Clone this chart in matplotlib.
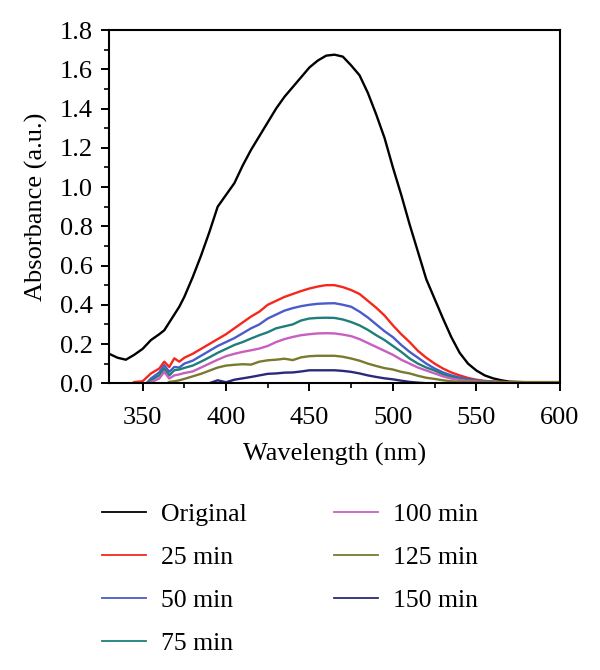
import matplotlib
matplotlib.use("Agg")
import matplotlib.pyplot as plt
from matplotlib.ticker import MultipleLocator, FormatStrFormatter

plt.rcParams['font.family'] = ['Liberation Serif', 'DejaVu Serif']
plt.rcParams['font.size'] = 19

wavelength = [330, 335, 340, 345, 350, 355, 360, 363, 366, 369, 372,
              375, 380, 385, 390, 395, 400, 405, 410, 415, 420, 425, 430,
              435, 440, 445, 450, 455, 460, 465, 470, 475, 480, 485, 490,
              495, 500, 505, 510, 515, 520, 525, 530, 535, 540, 545, 550,
              555, 560, 565, 570, 580, 590, 600]

original = [0.15, 0.13, 0.12, 0.145, 0.175, 0.22, 0.25, 0.27, 0.31, 0.35, 0.39,
            0.44, 0.54, 0.65, 0.77, 0.90, 0.96, 1.02, 1.11, 1.19, 1.26, 1.33, 1.40,
            1.46, 1.51, 1.56, 1.61, 1.645, 1.67, 1.675, 1.665, 1.62, 1.57, 1.48, 1.37,
            1.25, 1.10, 0.96, 0.81, 0.67, 0.53, 0.43, 0.33, 0.235, 0.155, 0.10, 0.065,
            0.04, 0.025, 0.015, 0.008, 0.005, 0.005, 0.005]

min25 = [-0.05, -0.05, -0.02, 0.006, 0.01, 0.05, 0.075, 0.11, 0.083, 0.127, 0.11,
         0.13, 0.15, 0.175, 0.20, 0.225, 0.25, 0.28, 0.31, 0.34, 0.365, 0.40, 0.42,
         0.44, 0.455, 0.47, 0.483, 0.493, 0.50, 0.50, 0.49, 0.475, 0.455, 0.42, 0.385,
         0.345, 0.295, 0.25, 0.21, 0.165, 0.13, 0.10, 0.075, 0.055, 0.04, 0.027, 0.018,
         0.012, 0.009, 0.007, 0.006, 0.006, 0.006, 0.006]

min50 = [-0.05, -0.05, -0.05, -0.05, -0.02, 0.024, 0.055, 0.092, 0.058, 0.083, 0.08,
         0.10, 0.115, 0.14, 0.165, 0.19, 0.21, 0.23, 0.255, 0.28, 0.30, 0.33, 0.35,
         0.37, 0.383, 0.393, 0.40, 0.405, 0.407, 0.408, 0.40, 0.39, 0.365, 0.335, 0.30,
         0.265, 0.235, 0.195, 0.16, 0.13, 0.10, 0.075, 0.055, 0.04, 0.029, 0.02, 0.014,
         0.01, 0.007, 0.006, 0.005, 0.005, 0.005, 0.005]

min75 = [-0.05, -0.05, -0.05, -0.05, -0.03, 0.015, 0.04, 0.075, 0.04, 0.066, 0.07,
         0.078, 0.09, 0.11, 0.132, 0.155, 0.175, 0.195, 0.21, 0.228, 0.245, 0.26, 0.28,
         0.29, 0.30, 0.32, 0.33, 0.333, 0.334, 0.333, 0.325, 0.312, 0.295, 0.272, 0.245,
         0.22, 0.19, 0.16, 0.126, 0.10, 0.08, 0.065, 0.045, 0.032, 0.023, 0.016, 0.012,
         0.009, 0.007, 0.006, 0.005, 0.005, 0.005, 0.005]

min100 = [-0.05, -0.05, -0.05, -0.05, -0.05, 0.005, 0.024, 0.058, 0.024, 0.04, 0.045,
          0.052, 0.06, 0.08, 0.10, 0.12, 0.138, 0.15, 0.16, 0.168, 0.177, 0.19, 0.21,
          0.225, 0.236, 0.245, 0.25, 0.254, 0.255, 0.254, 0.248, 0.24, 0.225, 0.205, 0.185,
          0.165, 0.145, 0.12, 0.10, 0.08, 0.065, 0.05, 0.035, 0.024, 0.017, 0.012, 0.009,
          0.007, 0.006, 0.005, 0.005, 0.005, 0.005, 0.005]

min125 = [-0.05, -0.05, -0.05, -0.05, -0.05, -0.05, -0.05, -0.01, 0.007, 0.01, 0.015,
          0.022, 0.035, 0.048, 0.064, 0.08, 0.09, 0.094, 0.097, 0.095, 0.11, 0.117, 0.12,
          0.125, 0.118, 0.132, 0.138, 0.14, 0.14, 0.14, 0.135, 0.126, 0.115, 0.10, 0.088,
          0.077, 0.07, 0.058, 0.05, 0.038, 0.028, 0.022, 0.015, 0.01, 0.007, 0.006, 0.005,
          0.005, 0.005, 0.005, 0.005, 0.005, 0.005, 0.005]

min150 = [-0.05, -0.05, -0.05, -0.05, -0.05, -0.05, -0.05, -0.05, -0.05, -0.05, -0.05,
          -0.05, -0.05, -0.02, 0.0, 0.015, 0.005, 0.018, 0.025, 0.032, 0.04, 0.048, 0.05,
          0.054, 0.055, 0.06, 0.066, 0.066, 0.066, 0.066, 0.063, 0.058, 0.05, 0.04, 0.032,
          0.025, 0.02, 0.013, 0.007, 0.003, 0.0, -0.01, -0.02, -0.02, -0.02, -0.02, -0.02,
          -0.02, -0.02, -0.02, -0.02, -0.02, -0.02, -0.02]

labels = ['Original', '25 min', '50 min', '75 min', '100 min', '125 min', '150 min']
series = [original, min25, min50, min75, min100, min125, min150]
colors = ['#000000', '#F4281C', '#4A5CC8', '#1E7F7A', '#C85FC0', '#787A2E', '#2A2A78']

fig = plt.figure(figsize=(6.0, 6.7), dpi=100)
ax = fig.add_axes([0.182, 0.428, 0.751, 0.527])

for y, c, lab in zip(series, colors, labels):
    ax.plot(wavelength, y, color=c, lw=1.7, label=lab)

ax.set_xlim(330, 600)
ax.set_ylim(0, 1.8)
ax.xaxis.set_major_locator(MultipleLocator(50))
ax.xaxis.set_minor_locator(MultipleLocator(25))
ax.yaxis.set_major_locator(MultipleLocator(0.2))
ax.yaxis.set_minor_locator(MultipleLocator(0.1))
ax.yaxis.set_major_formatter(FormatStrFormatter('%.1f'))
ax.set_xticks([350, 400, 450, 500, 550, 600])
ax.tick_params(axis='x', which='major', direction='out', length=6, width=1.4, pad=11)
ax.tick_params(axis='y', which='major', direction='out', length=6, width=1.4, pad=6)
ax.tick_params(which='minor', direction='out', length=3.5, width=1.2)
for s in ax.spines.values():
    s.set_linewidth(1.5)

ax.set_xlabel('Wavelength (nm)', labelpad=10)
ax.set_ylabel('Absorbance (a.u.)', labelpad=8)

handles, labs = ax.get_legend_handles_labels()
leg = fig.legend(handles, labs, loc='upper left', bbox_to_anchor=(0.17, 0.249),
                 ncol=2, frameon=False, handlelength=1.7, handletextpad=0.6,
                 columnspacing=3.4, labelspacing=0.78, fontsize=18.5,
                 borderaxespad=0, borderpad=0)
for line in leg.get_lines():
    line.set_linewidth(1.3)

fig.savefig('out.png', dpi=100)
